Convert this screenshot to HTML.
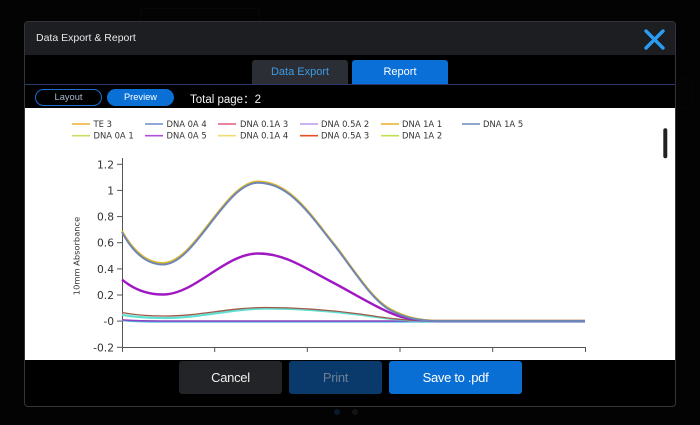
<!DOCTYPE html>
<html><head><meta charset="utf-8"><style>
*{margin:0;padding:0;box-sizing:border-box}
body{width:700px;height:425px;background:#030303;position:relative;overflow:hidden;font-family:"Liberation Sans","Noto Sans CJK SC",sans-serif}
.abs{position:absolute}
.dlg{left:24px;top:21px;width:652px;height:386px;border:1px solid #34353a;border-radius:4px;background:#000;overflow:hidden}
.title{left:0;top:0;width:650px;height:33px;background:#1d1e21}
.title span{position:absolute;left:11px;top:9.5px;color:#e6e6e6;font-size:10.5px}
.tab{top:38px;height:24px;border-radius:3px 3px 0 0;font-size:11px;text-align:center;line-height:24px}
.pill{top:67px;height:17px;border-radius:9px;font-size:9.3px;text-align:center;line-height:15px}
.btn{top:339px;height:33px;border-radius:3px;text-align:center;line-height:33px;font-size:13px;letter-spacing:-0.3px}
</style></head><body>
<div class="abs" style="left:140px;top:8px;width:120px;height:14px;border:1px solid #080808"></div>
<div class="abs" style="left:678px;top:78px;width:14px;height:30px;border:1px solid #070707;border-radius:3px"></div>
<div class="abs" style="left:334px;top:409px;width:6px;height:6px;border-radius:3px;background:#0a1a2c"></div>
<div class="abs" style="left:352px;top:409px;width:6px;height:6px;border-radius:3px;background:#121418"></div>
<div class="abs dlg">
  <div class="abs title"><span>Data Export &amp; Report</span>
    <svg class="abs" style="left:619px;top:7px" width="22" height="22" viewBox="0 0 22 22"><path d="M2 2L19 19M19 2L2 19" stroke="#2a9cf2" stroke-width="3.4" stroke-linecap="round"/></svg>
  </div>
  <div class="abs tab" style="left:227px;width:96px;background:#2b2e34;color:#3d9be6">Data Export</div>
  <div class="abs tab" style="left:327px;width:96px;background:#0a6fd6;color:#fff">Report</div>
  <div class="abs" style="left:0;top:62px;width:650px;height:1px;background:#2d3b6c"></div>
  <div class="abs pill" style="left:10px;width:67px;border:1.5px solid #1a6fd0;color:#a9b8d2">Layout</div>
  <div class="abs pill" style="left:82px;width:67px;background:#0a70d6;color:#fff;line-height:17px">Preview</div>
  <div class="abs" style="left:165px;top:68.5px;color:#f2f2f2;font-size:11.5px">Total page：2</div>
  <div class="abs" style="left:0;top:86px;width:650px;height:252px;background:#fff"></div>
  <div class="abs btn" style="left:154px;width:103px;background:#232427;color:#f0f0f0">Cancel</div>
  <div class="abs btn" style="left:264px;width:93px;background:#093a6b;color:#6c7f94">Print</div>
  <div class="abs btn" style="left:364px;width:133px;background:#0a6fd4;color:#fff">Save to .pdf</div>
</div>
<svg class="abs" style="left:0;top:0" width="700" height="425" viewBox="0 0 700 425">
  <defs><clipPath id="c"><rect x="25" y="108" width="650" height="251"/></clipPath></defs>
  <g clip-path="url(#c)" font-family="DejaVu Sans, Liberation Sans, sans-serif">
    <rect x="663.3" y="128.3" width="4" height="30" rx="2" fill="#222"/>
    <g stroke-width="1.6" fill="none">
      <line x1="72" y1="124" x2="90" y2="124" stroke="#e8b030"/>
      <line x1="145" y1="124" x2="163" y2="124" stroke="#6b8cc8"/>
      <line x1="218" y1="124" x2="236" y2="124" stroke="#e05a7a"/>
      <line x1="300" y1="124" x2="318" y2="124" stroke="#b89ae8"/>
      <line x1="381" y1="124" x2="399" y2="124" stroke="#e8b020"/>
      <line x1="462" y1="124" x2="480" y2="124" stroke="#6b88c0"/>
      <line x1="72" y1="135.7" x2="90" y2="135.7" stroke="#c8e060"/>
      <line x1="145" y1="135.7" x2="163" y2="135.7" stroke="#b050d8"/>
      <line x1="218" y1="135.7" x2="236" y2="135.7" stroke="#f0dc70"/>
      <line x1="300" y1="135.7" x2="318" y2="135.7" stroke="#e85020"/>
      <line x1="381" y1="135.7" x2="399" y2="135.7" stroke="#c0e050"/>
    </g>
    <g font-size="8.4" fill="#333">
      <text x="93.5" y="127">TE 3</text>
      <text x="166.5" y="127">DNA 0A 4</text>
      <text x="240" y="127">DNA 0.1A 3</text>
      <text x="321" y="127">DNA 0.5A 2</text>
      <text x="402" y="127">DNA 1A 1</text>
      <text x="483" y="127">DNA 1A 5</text>
      <text x="93.5" y="138.7">DNA 0A 1</text>
      <text x="166.5" y="138.7">DNA 0A 5</text>
      <text x="240" y="138.7">DNA 0.1A 4</text>
      <text x="321" y="138.7">DNA 0.5A 3</text>
      <text x="402" y="138.7">DNA 1A 2</text>
    </g>
    <g stroke="#555" stroke-width="1">
      <line x1="122.5" y1="158" x2="122.5" y2="347.5"/>
      <line x1="122" y1="347.5" x2="586" y2="347.5"/>
      <line x1="117" y1="164.3" x2="122.5" y2="164.3"/>
      <line x1="117" y1="190.4" x2="122.5" y2="190.4"/>
      <line x1="117" y1="216.6" x2="122.5" y2="216.6"/>
      <line x1="117" y1="242.7" x2="122.5" y2="242.7"/>
      <line x1="117" y1="268.9" x2="122.5" y2="268.9"/>
      <line x1="117" y1="295" x2="122.5" y2="295"/>
      <line x1="117" y1="321.1" x2="122.5" y2="321.1"/>
      <line x1="117" y1="347.3" x2="122.5" y2="347.3"/>
      <line x1="122.5" y1="347.5" x2="122.5" y2="352"/>
      <line x1="214.7" y1="347.5" x2="214.7" y2="352"/>
      <line x1="307.3" y1="347.5" x2="307.3" y2="352"/>
      <line x1="400" y1="347.5" x2="400" y2="352"/>
      <line x1="492.7" y1="347.5" x2="492.7" y2="352"/>
      <line x1="585.5" y1="347.5" x2="585.5" y2="352"/>
    </g>
    <g font-size="10.7" fill="#333" text-anchor="end">
      <text x="114" y="168.3">1.2</text>
      <text x="114" y="194.4">1</text>
      <text x="114" y="220.6">0.8</text>
      <text x="114" y="246.7">0.6</text>
      <text x="114" y="272.9">0.4</text>
      <text x="114" y="299">0.2</text>
      <text x="114" y="325.1">-0</text>
      <text x="114" y="351.3">-0.2</text>
    </g>
    <text transform="translate(79.5,256) rotate(-90)" font-size="8.3" fill="#333" text-anchor="middle">10mm Absorbance</text>
    <g fill="none" stroke-linejoin="round">
      <path d="M122,320.5 C130,321.3 140,321.8 160,321.8 L585,321.8" stroke="#40b8e0" stroke-width="1.6"/>
      <path d="M122,319.8 C130,320.5 140,321 160,321 L585,321" stroke="#9040c0" stroke-width="1.5"/>
      <path d="M122,314.8 C135,317.3 150,318 165,318 C200,318 232,308.5 268,308.5 C300,308.5 330,310.8 360,314.8 C380,317.6 400,320.8 430,321.2 L585,321.2" stroke="#5ee0d2" stroke-width="2.2"/>
      <path d="M122,312.5 C135,315 150,316 165,316 C200,316 230,307.5 265,307.5 C300,307.5 330,310 360,314 C380,317 400,320.5 430,321 L585,321" stroke="#a05a4a" stroke-width="1.3"/>
      <path d="M122,279.5 C132,288 145,294.5 163,294.5 C195,294.5 225,253.5 258,253.5 C285,253.5 305,268 330,281 C355,294 380,310 400,316.5 C412,320 425,321 440,321 L585,321" stroke="#a018c4" stroke-width="2.4"/>
      <path d="M122,231 C132,249 145,263 163,263 C195,263 225,181.5 258,181.5 C290,181.5 310,214 335,245 C355,271 372,299 390,309 C405,317 418,320.5 440,320.8 L585,320.8" stroke="#e0b828" stroke-width="2"/>
      <path d="M122,232.3 C132,250.5 145,264.5 163,264.5 C195,264.5 225,182.8 258,182.8 C290,182.8 310,215 335,246 C355,272 372,300 390,310 C405,318 418,321 440,321 L585,321" stroke="#6f86b4" stroke-width="2"/>
    </g>
  </g>
</svg>
</body></html>
